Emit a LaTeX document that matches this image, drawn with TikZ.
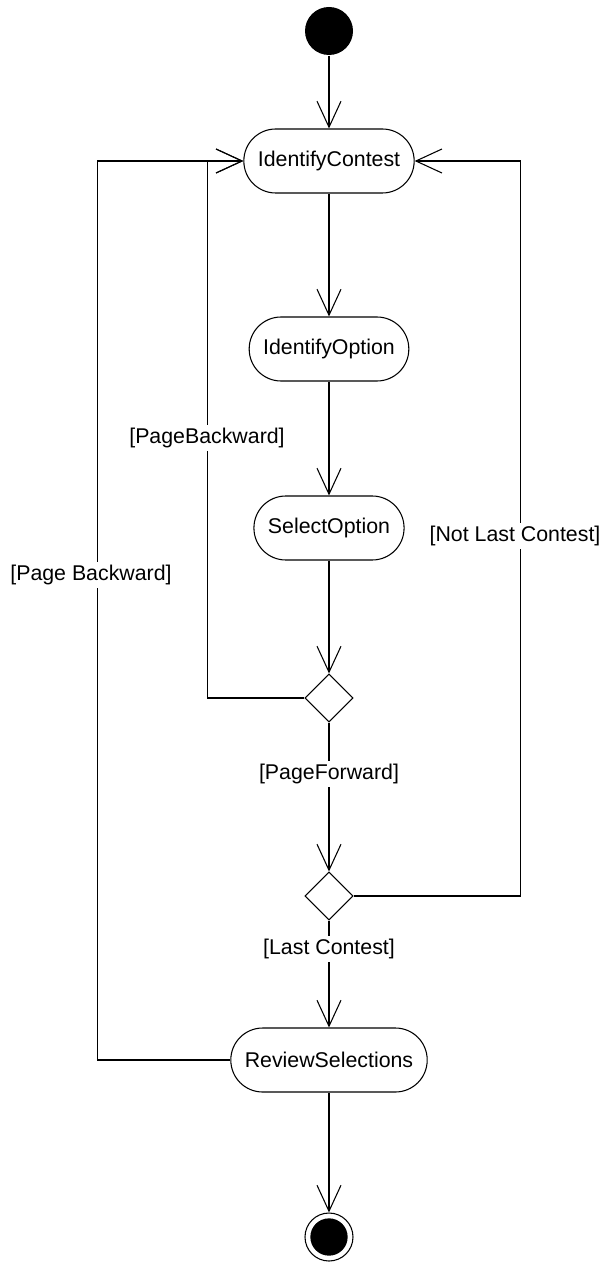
\documentclass[tikz,border=0pt]{standalone}
\usepackage{fontspec}
\setmainfont{Liberation Sans}
\usetikzlibrary{shapes,arrows.meta}

\begin{document}
\begin{tikzpicture}[x=0.75pt,y=-0.75pt,line width=0.8pt]
        % Define the styles for the activity diagram
        \tikzstyle{activity}=[draw, rectangle, rounded corners=23.9pt, minimum height=48pt, inner xsep=10.5pt, font=\fontsize{16}{19}\selectfont];
        \tikzstyle{decision}=[draw, diamond, minimum width=36pt, minimum height=36pt, inner sep=0pt];
        \tikzstyle{startstate}=[circle, fill=black, minimum size=36pt, inner sep=0pt];
        \tikzstyle{endstate}=[circle, draw, minimum size=36pt, inner sep=0pt];
        \tikzstyle{guard}=[fill=white, inner sep=2pt, font=\fontsize{16}{19}\selectfont];
        \tikzstyle{flow}=[-{Straight Barb[length=19.5pt, width=18pt]}];

        % Fix the page size
        \useasboundingbox (0,0) rectangle (603,1262);

        % Initial and final states
        \node[startstate] (start) at (329,31) {};
        \node[endstate] (end) at (329,1237) {};
        \fill (end.center) circle (14pt);

        % Activities and decisions
        \node[activity] (contest) at (329,161) {IdentifyContest};
        \node[activity] (option) at (329,349) {IdentifyOption};
        \node[activity] (select) at (329,528) {SelectOption};
        \node[decision] (page) at (329,698) {};
        \node[decision] (last) at (329,896) {};
        \node[activity] (review) at (329,1060) {ReviewSelections};

        % Main flow
        \draw[flow] (start) -- (contest);
        \draw[flow] (contest) -- (option);
        \draw[flow] (option) -- (select);
        \draw[flow] (select) -- (page);
        \draw[flow] (page) -- (last);
        \draw[flow] (last) -- (review);
        \draw[flow] (review) -- (end);

        % Loops back to IdentifyContest
        \draw[flow] (page.west) -- ++(-97,0) |- (contest.west);
        \draw[flow] (review.west) -- ++(-133,0) |- (contest.west);
        \draw[flow] (last.east) -- ++(167,0) |- (contest.east);

        % Guards
        \node[guard] (backlbl) at (207,438) {[PageBackward]};
        \node[guard] (farbacklbl) at (91,575) {[Page Backward]};
        \node[guard] (notlastlbl) at (515,536) {[Not Last Contest]};
        \node[guard] (fwdlbl) at (329,774) {[PageForward]};
        \node[guard] (lastlbl) at (329,949) {[Last Contest]};

    \end{tikzpicture}
\end{document}
